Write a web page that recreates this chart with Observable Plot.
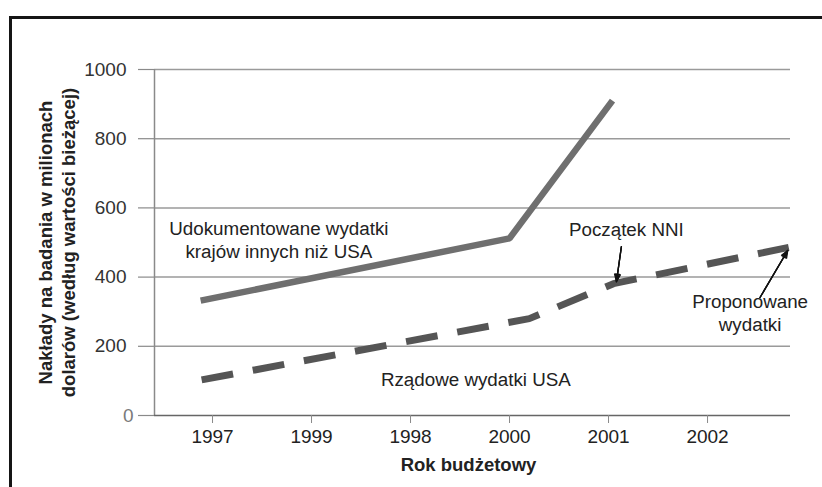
<!DOCTYPE html>
<html>
<head>
<meta charset="utf-8">
<script src="https://cdn.jsdelivr.net/npm/d3@7"></script>
<script src="https://cdn.jsdelivr.net/npm/@observablehq/plot@0.6"></script>
<style>
  html, body { margin: 0; padding: 0; background: #fff; }
  #wrap { position: relative; width: 822px; height: 487px; overflow: hidden; }
  #frame { position: absolute; left: 9px; top: 16px; right: -10px; bottom: -10px;
           border-top: 3px solid #151515; border-left: 3px solid #151515; }
  #chart { position: absolute; left: 0; top: 0; }
  #chart g[aria-label="y-axis tick label"], #chart g[aria-label="x-axis tick label"] { font-size: 19px; }
</style>
</head>
<body>
<div id="wrap"><div id="frame"></div><div id="chart"></div></div>
<script>
// Category tick positions and their labels (order as printed on the original)
const xTickPos = [0, 1, 2, 3, 4, 5];
const xTickLabels = ["1997", "1999", "1998", "2000", "2001", "2002"];
const yTicks = [0, 200, 400, 600, 800, 1000];

// Series: documented spending of non-US countries (solid)
const foreignX = [-0.12, 3.0, 4.04];
const foreignY = [332, 512, 910];
// Series: US government spending (dashed, incl. proposed)
const usX = [-0.11, 3.2, 4.05, 5.82];
const usY = [103, 280, 381, 486];

// Annotation texts and their anchor points (data units)
const noteText = ["Udokumentowane wydatki\nkrajów innych niż USA", "Początek NNI", "Rządowe wydatki USA", "Proponowane\nwydatki"];
const noteX = [0.67, 4.18, 2.66, 5.43];
const noteY = [509, 540, 107, 298];

// Arrows (data units)
const arrowX1 = [4.13, 5.53];
const arrowY1 = [488, 341];
const arrowX2 = [4.08, 5.81];
const arrowY2 = [387, 477];

const yTitle = "Nakłady na badania w milionach\ndolarów (według wartości bieżącej)";
const xTitle = "Rok budżetowy";

const xDomain = [-0.586, 5.838];
const notes = noteText.map((t, i) => ({t, x: noteX[i], y: noteY[i]}));
const arrowOpts = {x1: arrowX1, y1: arrowY1, x2: arrowX2, y2: arrowY2, stroke: "#111", strokeWidth: 1.3, headLength: 9};
const yAxisOpts = {tickFormat: d => String(d), tickSize: 16, stroke: "#8a8a8a", strokeOpacity: 1, strokeWidth: 1.2, fontSize: 19, label: null};

const chart = Plot.plot({
  width: 822,
  height: 487,
  marginTop: 69,
  marginBottom: 72,
  marginLeft: 154,
  marginRight: 32,
  x: {domain: xDomain, axis: null},
  y: {domain: [0, 1000], axis: null},
  style: {fontFamily: "'Liberation Sans', Arial, sans-serif", fontSize: "18px", background: "transparent", color: "#222"},
  marks: [
    Plot.ruleY(yTicks.filter(d => d > 0), {stroke: "#9a9a9a", strokeWidth: 1.5, strokeOpacity: 1}),
    Plot.ruleX([xDomain[0]], {y1: 0, y2: 1000, stroke: "#8a8a8a", strokeWidth: 1.5, strokeOpacity: 1}),
    Plot.axisY({...yAxisOpts, ticks: yTicks.filter(d => d > 0), tickPadding: 12, fill: "#333"}),
    Plot.axisY({...yAxisOpts, ticks: yTicks.filter(d => d === 0), tickPadding: 5, fill: "#7a7a7a"}),
    Plot.ruleY([0], {stroke: "#666", strokeWidth: 1.5, strokeOpacity: 1}),
    Plot.axisX({ticks: xTickPos, tickFormat: d => xTickLabels[xTickPos.indexOf(d)], tickSize: 8, tickPadding: 6,
      stroke: "#8a8a8a", strokeOpacity: 1, fill: "#222", fontSize: 19, label: null}),
    Plot.line(foreignY, {x: foreignX, y: foreignY, stroke: "#6f6f6f", strokeWidth: 6.5, strokeLinejoin: "miter", strokeLinecap: "butt"}),
    Plot.line(usY, {x: usX, y: usY, stroke: "#555", strokeWidth: 7, strokeDasharray: "32,20", strokeLinejoin: "miter", strokeLinecap: "butt"}),
    Plot.arrow(arrowX1, {...arrowOpts, headAngle: 44}),
    Plot.arrow(arrowX1, {...arrowOpts, headAngle: 30}),
    Plot.arrow(arrowX1, {...arrowOpts, headAngle: 16}),
    Plot.text(notes, {x: "x", y: "y", text: "t", textAnchor: "middle", fontSize: 18.8, lineHeight: 1.2, fill: "#222"}),
    Plot.text([yTitle], {frameAnchor: "left", dx: -98, rotate: -90, fontWeight: "bold", fontSize: 18.5, lineHeight: 1.25, lineAnchor: "middle", textAnchor: "middle", fill: "#222"}),
    Plot.text([xTitle], {frameAnchor: "bottom", dx: -4, dy: 50, lineAnchor: "middle", fontWeight: "bold", fontSize: 18.5, fill: "#222"})
  ]
});
document.getElementById("chart").appendChild(chart);
</script>
</body>
</html>
